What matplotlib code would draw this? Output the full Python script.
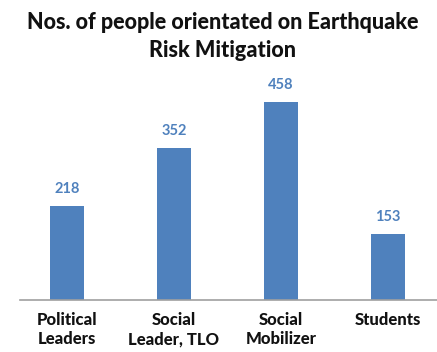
import matplotlib
matplotlib.use("Agg")
from matplotlib import pyplot as plt

categories = ["Political\nLeaders", "Social\nLeader, TLO", "Social\nMobilizer", "Students"]
values = [218, 352, 458, 153]

bar_color = "#4F81BD"
label_color = "#4F81BD"

plt.rcParams['font.family'] = ['Lato', 'DejaVu Sans']

fig = plt.figure(figsize=(4.37, 3.52), dpi=100)
ax = fig.add_axes([0.046, 0.148, 0.954, 0.615])

x = range(len(categories))
bars = ax.bar(x, values, width=0.32, color=bar_color)

for bar, v in zip(bars, values):
    ax.annotate(str(v), (bar.get_x() + bar.get_width() / 2, v),
                xytext=(0, 7), textcoords="offset points",
                ha="center", va="bottom", fontsize=10.5, fontweight="bold",
                color=label_color)

ax.set_xlim(-0.44, 3.46)
ax.set_ylim(0, 500)
ax.set_xticks(list(x))
ax.set_xticklabels(categories, fontsize=12, fontweight="black", linespacing=1.2,
                   color="#111111")
ax.tick_params(axis="x", length=0, pad=9)
ax.set_yticks([])
for side in ["top", "right", "left"]:
    ax.spines[side].set_visible(False)
ax.spines["bottom"].set_color("#A0A0A0")
ax.spines["bottom"].set_linewidth(1.2)

fig.text(0.51, 0.965, "Nos. of people orientated on Earthquake\nRisk Mitigation",
         ha="center", va="top", fontsize=15.5, fontweight="black",
         linespacing=1.4, color="#111111")

fig.savefig("out.png", dpi=100)
